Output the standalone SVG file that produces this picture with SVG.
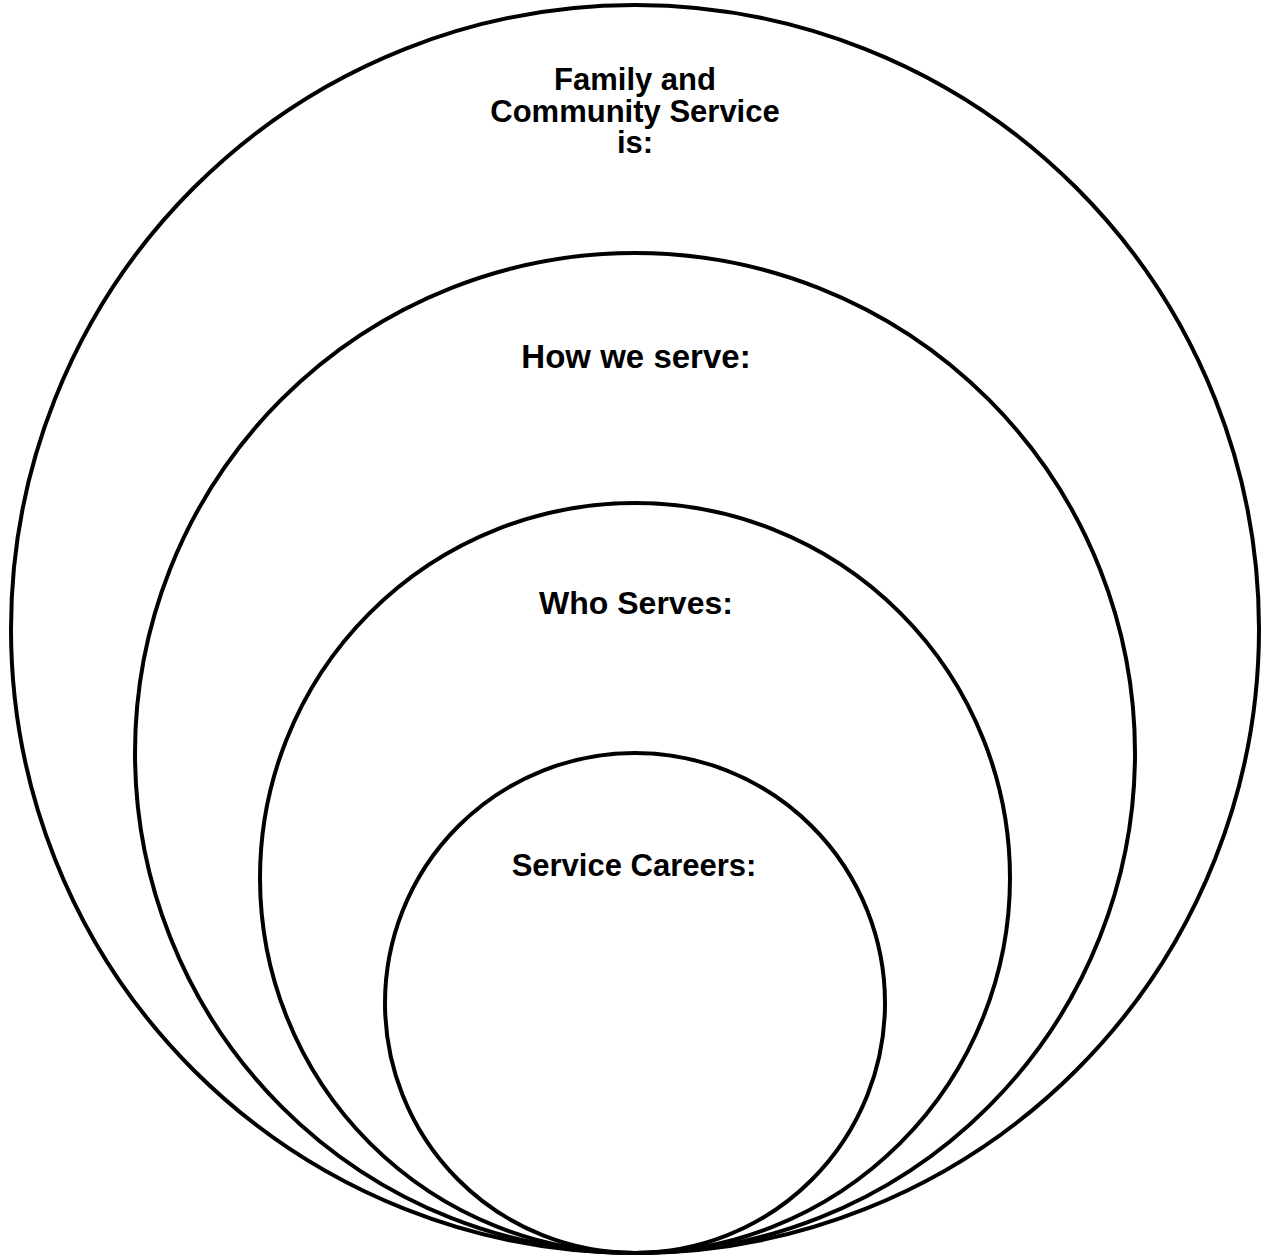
<svg xmlns="http://www.w3.org/2000/svg" width="1262" height="1256" viewBox="0 0 1262 1256">
<style>
.ring{fill:none;stroke:#000;stroke-width:4}
.lbl{font-family:"Liberation Sans",Arial,sans-serif;font-weight:bold;text-anchor:middle;fill:#000}
</style>
<rect width="1262" height="1256" fill="#fff"/>
<g id="outer"><circle class="ring" cx="635" cy="629" r="624"/>
<text class="lbl" font-size="31"><tspan x="635" y="90">Family and</tspan><tspan x="635" y="122">Community Service</tspan><tspan x="635" y="153">is:</tspan></text></g>
<g id="how"><circle class="ring" cx="635" cy="753" r="500"/>
<text class="lbl" font-size="33" x="636" y="368">How we serve:</text></g>
<g id="who"><circle class="ring" cx="635" cy="878" r="375"/>
<text class="lbl" font-size="32" x="636" y="614">Who Serves:</text></g>
<g id="careers"><circle class="ring" cx="635" cy="1003" r="250"/>
<text class="lbl" font-size="31" x="634" y="876">Service Careers:</text></g>
<g id="connectors"/>
</svg>
